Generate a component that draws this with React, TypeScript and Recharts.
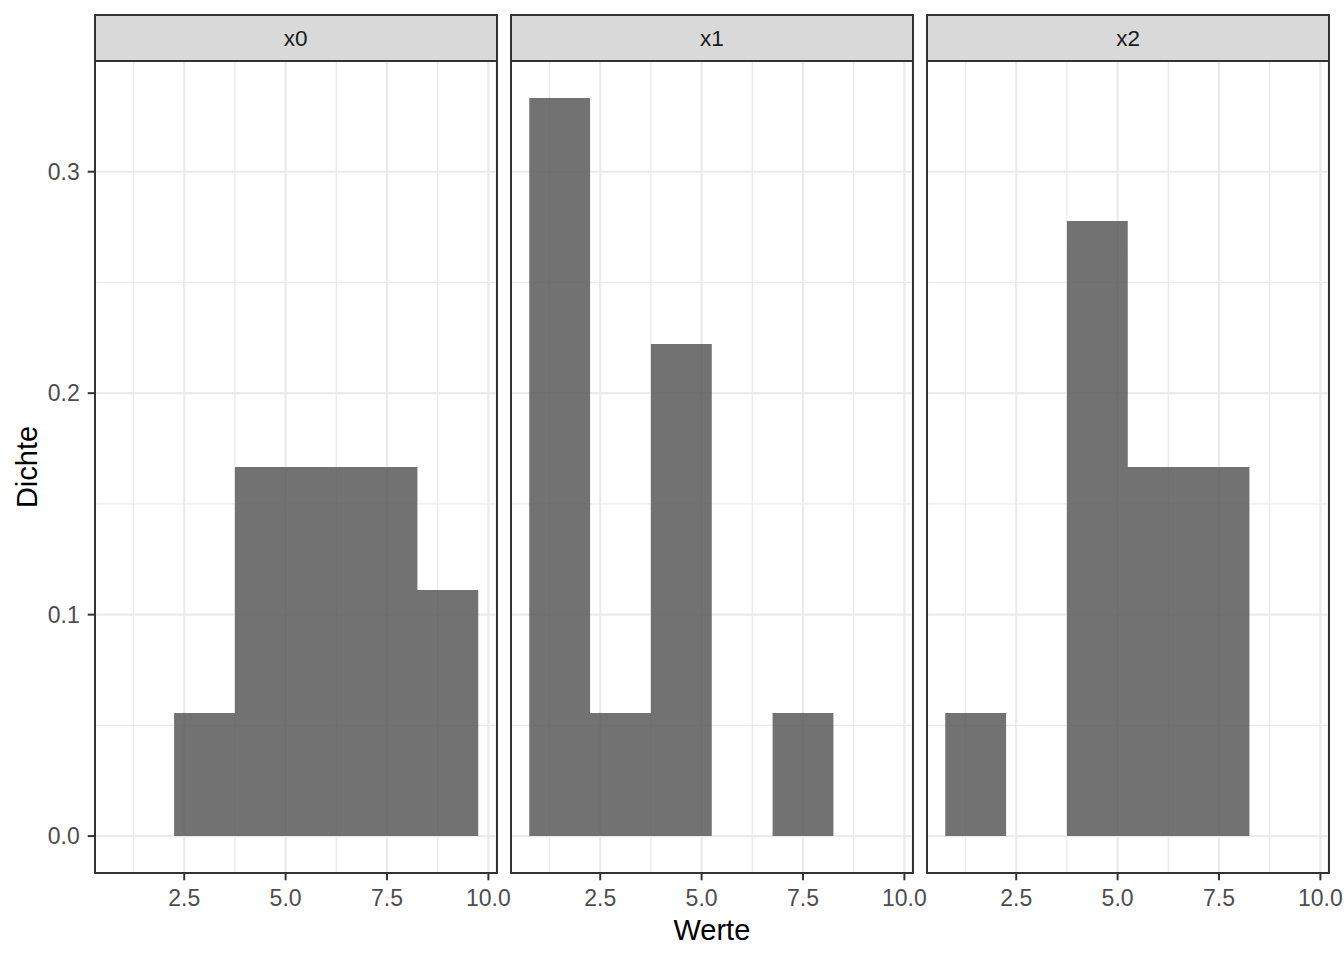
import React from 'react';
import { ComposedChart, Area, XAxis, YAxis, CartesianGrid } from 'recharts';

const FACETS = ['x0', 'x1', 'x2'];
const BIN_EDGES = [0.75, 2.25, 3.75, 5.25, 6.75, 8.25, 9.75];
const DENSITY_X0 = [0, 0.0556, 0.1667, 0.1667, 0.1667, 0.1111];
const DENSITY_X1 = [0.3333, 0.0556, 0.2222, 0, 0.0556, 0];
const DENSITY_X2 = [0.0556, 0, 0.2778, 0.1667, 0.1667, 0];
const DENSITIES = [DENSITY_X0, DENSITY_X1, DENSITY_X2];

const X_TICKS = [2.5, 5, 7.5, 10];
const X_MINOR = [1.25, 3.75, 6.25, 8.75];
const Y_TICKS = [0, 0.1, 0.2, 0.3];
const Y_MINOR = [0.05, 0.15, 0.25];
const X_DOMAIN: [number, number] = [0.3, 10.2];
const Y_DOMAIN: [number, number] = [-0.016667, 0.35];

const X_TITLE = 'Werte';
const Y_TITLE = 'Dichte';

const FONT = '"Liberation Sans", Arial, Helvetica, sans-serif';
const PANEL_LEFTS = [95, 511.2, 927.3];
const PANEL_W = 401.5;
const PANEL_TOP = 61;
const PANEL_H = 812;
const STRIP_TOP = 14.5;
const BORDER = '#333333';

function buildSteps(dens: number[]) {
  return BIN_EDGES.map((e, i) => ({ x: e, y: dens[Math.min(i, dens.length - 1)] }));
}

function Panel({ idx }: { idx: number }) {
  const left = PANEL_LEFTS[idx];
  const showY = idx === 0;
  const ml = showY ? 0 : 20;
  const mr = idx === 2 ? 15 : 20;
  const chartLeft = showY ? 0 : left - ml;
  const yW = showY ? left : 0;
  const width = (showY ? left : ml) + PANEL_W + mr;
  const data = buildSteps(DENSITIES[idx]);
  return (
    <div style={{ position: 'absolute', left: chartLeft, top: PANEL_TOP }}>
      <ComposedChart
        width={width}
        height={PANEL_H + 60}
        data={data}
        margin={{ top: 0, right: mr, bottom: 0, left: ml }}
      >
        <CartesianGrid
          stroke="#EBEBEB"
          strokeWidth={1.3}
          fill="none"
          horizontalValues={Y_MINOR}
          verticalValues={X_MINOR}
        />
        <CartesianGrid stroke="#EBEBEB" strokeWidth={2.2} fill="none" />
        <XAxis
          dataKey="x"
          type="number"
          domain={X_DOMAIN}
          ticks={X_TICKS}
          allowDataOverflow
          interval={0}
          tickFormatter={(v: number) => v.toFixed(1)}
          tick={{ fill: '#4D4D4D', fontSize: 23, fontFamily: FONT }}
          tickLine={{ stroke: BORDER, strokeWidth: 2 }}
          tickSize={7.3}
          tickMargin={9.5}
          axisLine={false}
          height={60}
        />
        <YAxis
          type="number"
          domain={Y_DOMAIN}
          ticks={Y_TICKS}
          allowDataOverflow
          interval={0}
          hide={!showY}
          width={yW}
          tickFormatter={(v: number) => v.toFixed(1)}
          tick={{ fill: '#4D4D4D', fontSize: 23, fontFamily: FONT }}
          tickLine={{ stroke: BORDER, strokeWidth: 2 }}
          tickSize={7.3}
          tickMargin={8}
          axisLine={false}
        />
        <Area
          dataKey="y"
          type="stepAfter"
          fill="#595959"
          fillOpacity={0.85}
          stroke="none"
          baseValue={0}
          dot={false}
          activeDot={false}
          isAnimationActive={false}
        />
      </ComposedChart>
      <div
        style={{
          position: 'absolute',
          left: (showY ? left : ml) - 1,
          top: -1,
          width: PANEL_W + 2,
          height: PANEL_H + 2,
          border: `2px solid ${BORDER}`,
          boxSizing: 'border-box',
          pointerEvents: 'none',
        }}
      />
    </div>
  );
}

function Strip({ idx }: { idx: number }) {
  const left = PANEL_LEFTS[idx];
  return (
    <div
      style={{
        position: 'absolute',
        left: left - 1,
        top: STRIP_TOP - 1,
        width: PANEL_W + 2,
        height: PANEL_TOP - STRIP_TOP + 2,
        border: `2px solid ${BORDER}`,
        boxSizing: 'border-box',
        background: '#D9D9D9',
        display: 'flex',
        alignItems: 'center',
        justifyContent: 'center',
        fontFamily: FONT,
        fontSize: 22.5,
        color: '#1A1A1A',
        paddingTop: 2,
      }}
    >
      {FACETS[idx]}
    </div>
  );
}

export default function App() {
  const midX = (PANEL_LEFTS[0] + PANEL_LEFTS[2] + PANEL_W) / 2;
  const midY = PANEL_TOP + PANEL_H / 2;
  return (
    <div
      style={{
        position: 'absolute',
        left: 0,
        top: 0,
        width: 1344,
        height: 960,
        background: '#FFFFFF',
        overflow: 'hidden',
        fontFamily: FONT,
      }}
    >
      {FACETS.map((_, i) => (
        <Panel key={`p${i}`} idx={i} />
      ))}
      {FACETS.map((_, i) => (
        <Strip key={`s${i}`} idx={i} />
      ))}
      <svg
        width={1344}
        height={960}
        style={{ position: 'absolute', left: 0, top: 0, pointerEvents: 'none' }}
      >
        <text x={midX} y={940} textAnchor="middle" fontSize={29} fontFamily={FONT} fill="#000000">
          {X_TITLE}
        </text>
        <text
          transform={`translate(37.3, ${midY}) rotate(-90)`}
          textAnchor="middle"
          fontSize={29}
          fontFamily={FONT}
          fill="#000000"
        >
          {Y_TITLE}
        </text>
      </svg>
    </div>
  );
}
